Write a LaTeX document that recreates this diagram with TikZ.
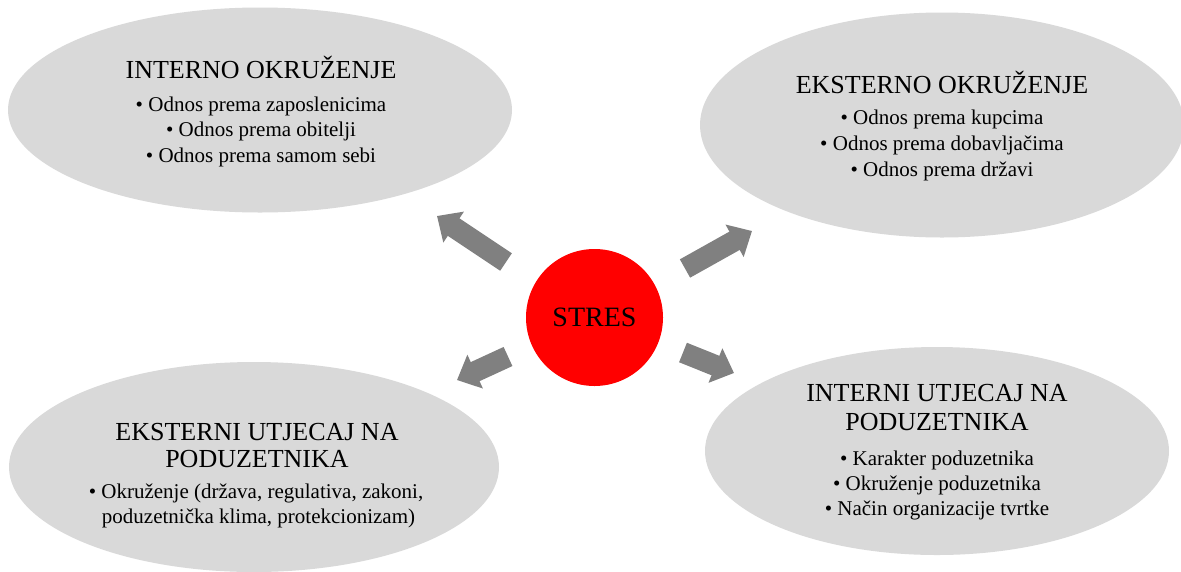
\documentclass[tikz,border=0pt]{standalone}
\usepackage{fontspec}
\setmainfont{Liberation Serif}
\usetikzlibrary{shapes.geometric,arrows.meta}
\definecolor{ellgray}{HTML}{D9D9D9}
\definecolor{arrgray}{HTML}{808080}
\definecolor{stresred}{HTML}{FF0000}
\begin{document}
\begin{tikzpicture}[x=1pt,y=-1pt,
  bubble/.style={ellipse, fill=ellgray, draw=none, inner sep=0pt},
  ttl/.style={font=\fontsize{26}{28}\selectfont, anchor=base, inner sep=0pt},
  itm/.style={font=\fontsize{21}{25}\selectfont, anchor=base, inner sep=0pt},
  blockarrow/.style={arrgray, line width=21pt, -{Triangle[length=20pt,width=36pt]}}]
\useasboundingbox (0,0) rectangle (1181,571);
\clip (0,0) rectangle (1181,571);
\fill[white] (0,0) rectangle (1181,571);

% ellipses
\node[bubble, minimum width=504pt, minimum height=205pt] (intok) at (260,110) {};
\node[bubble, minimum width=484pt, minimum height=225pt] (extok) at (942,125) {};
\node[bubble, minimum width=490pt, minimum height=210pt] (extut) at (254,467) {};
\node[bubble, minimum width=464pt, minimum height=208pt] (intut) at (937,451) {};

% centre
\node[circle, fill=stresred, minimum size=137pt, inner sep=0pt,
      font=\fontsize{28}{30}\selectfont] (stres) at (594.5,317.5) {STRES};

% texts: interno okruzenje
\node[ttl] (t1) at (261,78) {INTERNO OKRUŽENJE};
\node[itm] (t1a) at (261,111) {• Odnos prema zaposlenicima};
\node[itm] (t1b) at (261,136) {• Odnos prema obitelji};
\node[itm] (t1c) at (261,162) {• Odnos prema samom sebi};

% eksterno okruzenje
\node[ttl] (t2) at (942,93) {EKSTERNO OKRUŽENJE};
\node[itm] (t2a) at (942,124) {• Odnos prema kupcima};
\node[itm] (t2b) at (942,150) {• Odnos prema dobavljačima};
\node[itm] (t2c) at (942,176) {• Odnos prema državi};

% eksterni utjecaj
\node[ttl] (t3) at (257,440) {EKSTERNI UTJECAJ NA};
\node[ttl] (t3x) at (257,467) {PODUZETNIKA};
\node[itm] (t3a) at (256,498) {• Okruženje (država, regulativa, zakoni,};
\node[itm] (t3b) at (258.5,523) {poduzetnička klima, protekcionizam)};

% interni utjecaj
\node[ttl] (t4) at (937,401) {INTERNI UTJECAJ NA};
\node[ttl] (t4x) at (937,430) {PODUZETNIKA};
\node[itm] (t4a) at (937,465) {• Karakter poduzetnika};
\node[itm] (t4b) at (937,490) {• Okruženje poduzetnika};
\node[itm] (t4c) at (937,515) {• Način organizacije tvrtke};

% arrows
\coordinate (a1s) at (506,262);   \coordinate (a1e) at (437,216);
\coordinate (a2s) at (685,268.5); \coordinate (a2e) at (752,231);
\coordinate (a3s) at (508,356.5); \coordinate (a3e) at (457,380);
\coordinate (a4s) at (683,352.5); \coordinate (a4e) at (734,373);
\draw[blockarrow] (a1s) -- (a1e);
\draw[blockarrow] (a2s) -- (a2e);
\draw[blockarrow] (a3s) -- (a3e);
\draw[blockarrow] (a4s) -- (a4e);
\end{tikzpicture}
\end{document}
